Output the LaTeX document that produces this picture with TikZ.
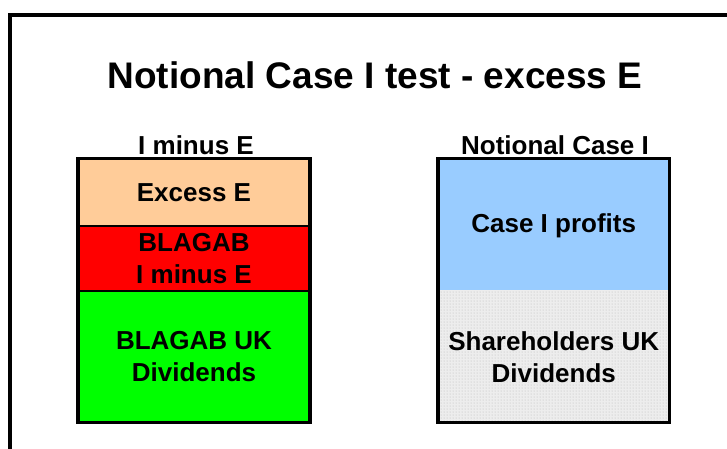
\documentclass[tikz,border=0pt]{standalone}
\usepackage{fontspec}
\setmainfont{Liberation Sans}
\usetikzlibrary{patterns}
\definecolor{peach}{HTML}{FFCC99}
\definecolor{skyblue}{HTML}{99CCFF}
\definecolor{brightred}{HTML}{FF0000}
\definecolor{brightgreen}{HTML}{00FF00}
\definecolor{lightdots}{HTML}{EDEDED}
\begin{document}
\begin{tikzpicture}[x=1pt,y=-1pt,
  seg/.style={inner sep=0pt, outer sep=0pt, anchor=north west, align=center,
    font=\bfseries\fontsize{26}{32.5}\selectfont},
  hdr/.style={inner sep=0pt, font=\bfseries\fontsize{26}{32.5}\selectfont},
  sep/.style={line width=2.5pt},
  outline/.style={line width=3.5pt}]
\useasboundingbox (0,0) rectangle (727,448);
\clip (0,0) rectangle (727,448);

% slide frame (runs off the right and bottom edges)
\coordinate (fbl) at (9.5,470);
\coordinate (ftl) at (9.5,14.5);
\coordinate (ftr) at (760,14.5);
\draw[line width=4pt] (fbl) -- (ftl) -- (ftr);

% title
\node[inner sep=0pt, font=\bfseries\fontsize{37}{44}\selectfont] (title) at (375,75)
  {Notional Case I test - excess E};

% left column: I minus E
\node[hdr] (lhead) at (196,145) {I minus E};
\node[seg, fill=peach, minimum width=232pt, minimum height=67.5pt] (excess) at (78,158.5) {Excess E};
\node[seg, fill=brightred, minimum width=232pt, minimum height=65pt] (blagab) at (78,226) {BLAGAB\\I minus E};
\node[seg, fill=brightgreen, minimum width=232pt, minimum height=131.5pt] (ukdiv) at (78,291) {BLAGAB UK\\Dividends};
\draw[sep] (excess.south west) -- (excess.south east);
\draw[sep] (blagab.south west) -- (blagab.south east);
\draw[outline] (excess.north west) rectangle (ukdiv.south east);

% right column: Notional Case I
\node[hdr] (rhead) at (555,145) {Notional Case I};
\node[seg, fill=skyblue, minimum width=231.5pt, minimum height=131.5pt] (profits) at (438,158.5) {};
\node[hdr] (proftext) at ([yshift=-2pt]profits.center) {Case I profits};
\node[seg, fill=lightdots, minimum width=231.5pt, minimum height=132.5pt,
  postaction={pattern=dots, pattern color=gray!55}] (shdiv) at (438,290) {};
\node[hdr, align=center] (shtext) at ([yshift=-1pt]shdiv.center) {Shareholders UK\\Dividends};
\draw[outline] (profits.north west) rectangle (shdiv.south east);
\end{tikzpicture}
\end{document}
